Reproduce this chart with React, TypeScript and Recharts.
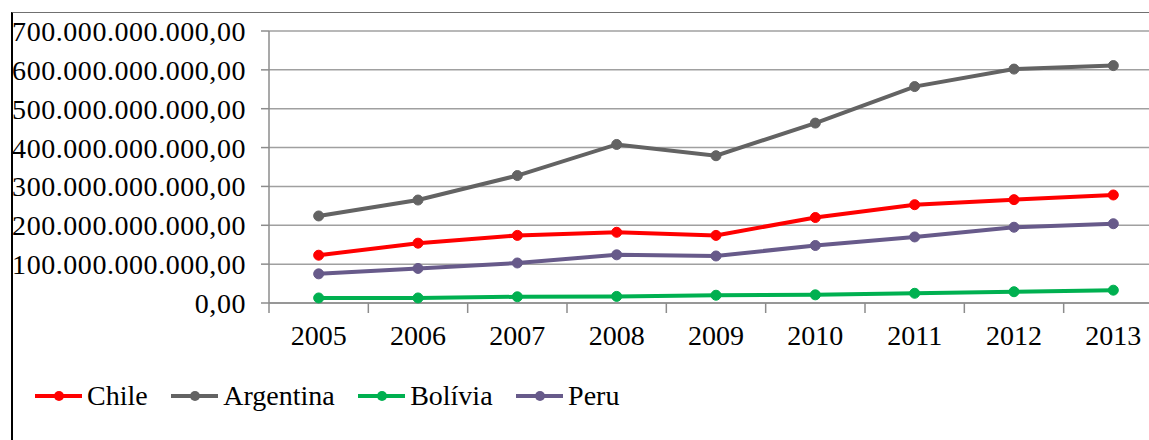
import React from "react";
import { LineChart, Line, XAxis, YAxis, CartesianGrid } from "recharts";

const years = ["2005", "2006", "2007", "2008", "2009", "2010", "2011", "2012", "2013"];
const chile = [123e9, 154e9, 174e9, 182e9, 174e9, 220e9, 253e9, 266e9, 278e9];
const argentina = [224e9, 265e9, 328e9, 408e9, 379e9, 463e9, 557e9, 602e9, 611e9];
const bolivia = [13e9, 13e9, 16e9, 17e9, 20e9, 21e9, 25e9, 29e9, 33e9];
const peru = [75e9, 89e9, 103e9, 124e9, 121e9, 148e9, 170e9, 195e9, 204e9];
const yTicks = [0, 1e11, 2e11, 3e11, 4e11, 5e11, 6e11, 7e11];

const series = [
  { key: "Chile", values: chile, color: "#ff0000" },
  { key: "Argentina", values: argentina, color: "#636363" },
  { key: "Bolívia", values: bolivia, color: "#00b050" },
  { key: "Peru", values: peru, color: "#675a8a" },
];

const data = years.map((year, i) => {
  const row: Record<string, string | number> = { year };
  series.forEach((s) => (row[s.key] = s.values[i]));
  return row;
});

const FONT = "Liberation Serif, Tinos, Times New Roman, DejaVu Serif, serif";
const CHART_W = 1200;
const PLOT_LEFT = 269;
const PLOT_RIGHT = 1163;
const HALF = (PLOT_RIGHT - PLOT_LEFT) / years.length / 2;
const TICK = 10;
const TICK_GAP = 12;

const fmt = (v: number) =>
  Math.round(v).toString().replace(/\B(?=(\d{3})+(?!\d))/g, ".") + ",00";

const XTick = (props: any) => {
  const { x, y, payload, index } = props;
  const axisY = y - TICK - TICK_GAP;
  return (
    <g>
      <line x1={x - HALF} y1={axisY} x2={x - HALF} y2={axisY + TICK} stroke="#8c8c8c" strokeWidth={1.5} />
      {index === years.length - 1 && (
        <line x1={x + HALF} y1={axisY} x2={x + HALF} y2={axisY + TICK} stroke="#8c8c8c" strokeWidth={1.5} />
      )}
      <text x={x} y={y} dy="0.71em" textAnchor="middle" fill="#000" fontSize={28} style={{ fontFamily: FONT }}>
        {payload.value}
      </text>
    </g>
  );
};

const ChartLegend = () => (
  <div
    style={{
      position: "absolute",
      left: 35,
      top: 380,
      display: "flex",
      alignItems: "center",
      fontFamily: FONT,
      fontSize: 28,
      color: "#000",
    }}
  >
    {series.map((s) => (
      <div key={s.key} style={{ display: "flex", alignItems: "center", marginRight: 23.5 }}>
        <svg width={47} height={12} style={{ marginRight: 5 }}>
          <line x1={0} y1={6} x2={47} y2={6} stroke={s.color} strokeWidth={4} />
          <circle cx={24} cy={6} r={5} fill={s.color} />
        </svg>
        <span>{s.key}</span>
      </div>
    ))}
  </div>
);

export default function App() {
  return (
    <div
      style={{
        position: "fixed",
        left: 0,
        top: 0,
        width: 1149,
        height: 440,
        overflow: "hidden",
        background: "#fff",
        fontFamily: FONT,
      }}
    >
      <div
        style={{
          position: "absolute",
          left: 11,
          top: 12,
          width: 1200,
          height: 500,
          borderLeft: "2px solid #000",
          borderTop: "1.5px solid #707070",
        }}
      />
      <div style={{ position: "absolute", left: 0, top: 0 }}>
        <LineChart
          width={CHART_W}
          height={440}
          data={data}
          margin={{ top: 31, right: CHART_W - PLOT_RIGHT, left: 0, bottom: 97 }}
          style={{ fontFamily: FONT }}
        >
          <CartesianGrid horizontal vertical={false} stroke="#a0a0a0" strokeWidth={1.5} />
          <XAxis
            dataKey="year"
            interval={0}
            height={40}
            padding={{ left: HALF, right: HALF }}
            axisLine={{ stroke: "#8c8c8c", strokeWidth: 1.5 }}
            tickLine={{ stroke: "none" }}
            tickSize={TICK}
            tickMargin={TICK_GAP}
            tick={(p: any) => <XTick {...p} />}
          />
          <YAxis
            width={PLOT_LEFT}
            domain={[0, 7e11]}
            ticks={yTicks}
            interval={0}
            tickFormatter={fmt}
            axisLine={{ stroke: "#8c8c8c", strokeWidth: 1.5 }}
            tickLine={{ stroke: "#8c8c8c", strokeWidth: 1.5 }}
            tickSize={8}
            tickMargin={15}
            tick={{ fill: "#000", fontSize: 28, fontFamily: FONT, letterSpacing: 0.55 }}
          />
          {series.map((s) => (
            <Line
              key={s.key}
              dataKey={s.key}
              stroke={s.color}
              strokeWidth={4}
              dot={{ r: 5, fill: s.color, stroke: s.color, strokeWidth: 1 }}
              activeDot={false}
              isAnimationActive={false}
            />
          ))}
        </LineChart>
      </div>
      <ChartLegend />
    </div>
  );
}
